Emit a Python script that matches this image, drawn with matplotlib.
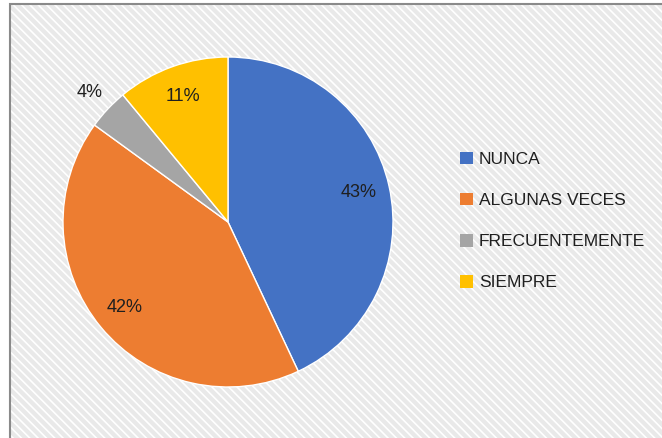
import matplotlib.pyplot as plt
from matplotlib.patches import Rectangle, Patch
import numpy as np

# datos del grafico
categorias = ['NUNCA', 'ALGUNAS VECES', 'FRECUENTEMENTE', 'SIEMPRE']
porcentajes = [43, 42, 4, 11]
colores = ['#4472c4', '#ed7d31', '#a5a5a5', '#ffc000']

W, H = 662, 438
plt.rcParams['font.family'] = ['Liberation Sans', 'DejaVu Sans']
plt.rcParams['hatch.linewidth'] = 1.2
plt.rcParams['hatch.color'] = 'white'

fig = plt.figure(figsize=(W / 100, H / 100), dpi=100)
fig.patch.set_facecolor('white')

# fondo rayado con borde gris
fondo = Rectangle((10 / W, 0), 1, 1 - 4 / H, transform=fig.transFigure,
                  facecolor='#e9e9e9', edgecolor='white', hatch='\\\\\\\\',
                  linewidth=0, zorder=0)
fig.patches.append(fondo)
borde = Rectangle((10 / W, -0.1), 1, 1.1 - 4 / H, transform=fig.transFigure,
                  facecolor='none', edgecolor='#8a8a8a', linewidth=1.5, zorder=1)
fig.patches.append(borde)

# ejes del pastel
cx, cy, r = 228, 222, 165
ax = fig.add_axes([(cx - r) / W, (H - cy - r) / H, 2 * r / W, 2 * r / H])
ax.set_zorder(3)
ax.set_facecolor('none')
wedges, _ = ax.pie(porcentajes, colors=colores, startangle=90, counterclock=False,
                   radius=1, wedgeprops=dict(edgecolor='white', linewidth=1))
ax.set_xlim(-1, 1)
ax.set_ylim(-1, 1)
ax.set_aspect('equal')
ax.axis('off')

# etiquetas de porcentaje
acum = 0
for val in porcentajes:
    mid = acum + val / 2
    acum += val
    ang = np.deg2rad(90 - 360 * mid / 100)
    d = 1.15 if val < 5 else 0.81
    ax.text(d * np.cos(ang), d * np.sin(ang), f'{val}%', ha='center', va='center',
            fontsize=13, color='#1f1f1f', clip_on=False)

# leyenda
handles = [Patch(facecolor=c, edgecolor='none') for c in colores]
leg = fig.legend(handles, categorias, loc='center left', bbox_to_anchor=(444 / W, 1 - 221 / H),
                 frameon=False, fontsize=12.5, handlelength=0.75, handleheight=0.75,
                 handletextpad=0.35, labelspacing=1.48, labelcolor='#1f1f1f')
leg.set_zorder(3)

fig.savefig('out.png', dpi=100)
